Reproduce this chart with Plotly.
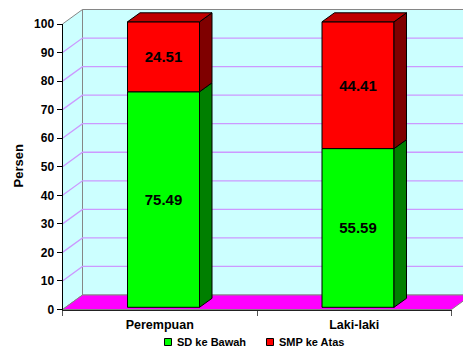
import plotly.graph_objects as go

# Survey shares by sex, stacked to 100 percent
categories = ["Perempuan", "Laki-laki"]
sd_ke_bawah = [75.49, 55.59]
smp_ke_atas = [24.51, 44.41]
y_ticks = [0, 10, 20, 30, 40, 50, 60, 70, 80, 90, 100]

FONT = "Liberation Sans"
W, H = 463, 352
AX_L, AX_R, AX_B, AX_T = 62.5, 451.5, 309.5, 24.0
PX_X = (AX_R - AX_L) / len(categories)   # pixels per category
PX_Y = (AX_B - AX_T) / 100               # pixels per percent


def dx(px):
    return px / PX_X


def dy(px):
    return px / PX_Y


# Full-page subplot that carries the pseudo-3D marks, in category/percent units
x0_page = -0.5 - AX_L / PX_X
x1_page = x0_page + W / PX_X
y0_page = -(H - AX_B) / PX_Y
y1_page = AX_B / PX_Y

WALL_DX, WALL_DY = dx(20), dy(14.5)
BAR_WIDTH = dx(72)
BAR_SHIFT = dx(3.75)
BAR_BASE = dy(2.2)
SIDE_DX, SIDE_DY = dx(12.5), dy(9)

LEFT, RIGHT = -0.5, 1.5


def poly(points):
    return "M" + "L".join(f"{x},{y}" for x, y in points) + "Z"


def line(points):
    return "M" + "L".join(f"{x},{y}" for x, y in points)


shapes = []


def add_shape(path, fill=None, color=None, width=1):
    shapes.append(dict(
        type="path", path=path, xref="x", yref="y", layer="below",
        fillcolor=fill if fill else "rgba(0,0,0,0)",
        line=dict(color=color if color else "rgba(0,0,0,0)", width=width),
    ))


GRAY = "#868686"
GRID = "#CC99FF"

# Side wall, back wall and floor
add_shape(poly([(LEFT, 0), (LEFT + WALL_DX, WALL_DY),
                (LEFT + WALL_DX, 100 + WALL_DY), (LEFT, 100)]), "#CCFFFF", GRAY)
add_shape(poly([(LEFT + WALL_DX, WALL_DY), (x1_page + 0.1, WALL_DY),
                (x1_page + 0.1, 100 + WALL_DY), (LEFT + WALL_DX, 100 + WALL_DY)]), "#CCFFFF", GRAY)
for t in y_ticks[1:-1]:
    add_shape(line([(LEFT, t), (LEFT + WALL_DX, t + WALL_DY), (x1_page + 0.1, t + WALL_DY)]),
              color=GRID, width=1.3)
add_shape(poly([(LEFT, 0), (RIGHT, 0), (RIGHT + WALL_DX, WALL_DY), (LEFT + WALL_DX, WALL_DY)]),
          "#FF00FF", GRAY)

fig = go.Figure()

# Front faces of the stacked columns
bar_x = [i + BAR_SHIFT for i in range(len(categories))]
fig.add_trace(go.Bar(
    x=bar_x, y=sd_ke_bawah, base=[BAR_BASE] * len(categories), width=BAR_WIDTH,
    name="SD ke Bawah", marker=dict(color="#00FF00", line=dict(color="#000000", width=1)),
    text=[f"{v:.2f}" for v in sd_ke_bawah], textposition="inside", textangle=0,
    insidetextanchor="middle", constraintext="none",
    insidetextfont=dict(family=FONT, size=15, color="#000000", weight=700),
    showlegend=False, hoverinfo="skip",
))
fig.add_trace(go.Bar(
    x=bar_x, y=smp_ke_atas, base=[BAR_BASE + v for v in sd_ke_bawah], width=BAR_WIDTH,
    name="SMP ke Atas", marker=dict(color="#FF0000", line=dict(color="#000000", width=1)),
    text=[f"{v:.2f}" for v in smp_ke_atas], textposition="inside", textangle=0,
    insidetextanchor="middle", constraintext="none",
    insidetextfont=dict(family=FONT, size=15, color="#000000", weight=700),
    showlegend=False, hoverinfo="skip",
))


def face(points, color):
    xs = [p[0] for p in points] + [points[0][0]]
    ys = [p[1] for p in points] + [points[0][1]]
    fig.add_trace(go.Scatter(x=xs, y=ys, mode="lines", fill="toself", fillcolor=color,
                             line=dict(color="#000000", width=1),
                             showlegend=False, hoverinfo="skip"))


# Side and top faces of each column
for cx, low, high in zip(bar_x, sd_ke_bawah, smp_ke_atas):
    xr = cx + BAR_WIDTH / 2
    xl = cx - BAR_WIDTH / 2
    b0 = BAR_BASE
    b1 = BAR_BASE + low
    b2 = b1 + high
    face([(xr, b0), (xr + SIDE_DX, b0 + SIDE_DY), (xr + SIDE_DX, b1 + SIDE_DY), (xr, b1)], "#007F00")
    face([(xr, b1), (xr + SIDE_DX, b1 + SIDE_DY), (xr + SIDE_DX, b2 + SIDE_DY), (xr, b2)], "#7F0000")
    face([(xl, b2), (xr, b2), (xr + SIDE_DX, b2 + SIDE_DY), (xl + SIDE_DX, b2 + SIDE_DY)], "#BF0000")

# Invisible trace that brings up the visible category and percent axes
fig.add_trace(go.Scatter(x=categories, y=[0, 0], xaxis="x2", yaxis="y2", mode="lines",
                         line=dict(width=0), showlegend=False, hoverinfo="skip"))

# Legend swatches and labels
legend_items = [("SD ke Bawah", "#00FF00", 164.5, 175), ("SMP ke Atas", "#FF0000", 266.5, 277)]
annotations = [dict(text="Persen", xref="paper", yref="paper", x=18 / W, y=1 - 166.5 / H,
                    xanchor="center", yanchor="middle", textangle=-90, showarrow=False,
                    font=dict(family=FONT, size=13, color="#000000", weight=700))]
for label, color, px, tx in legend_items:
    shapes.append(dict(type="rect", xref="paper", yref="paper",
                       x0=px / W, x1=(px + 7) / W, y0=1 - 345.5 / H, y1=1 - 338.5 / H,
                       fillcolor=color, line=dict(color="#000000", width=1)))
    annotations.append(dict(text=label, xref="paper", yref="paper", x=tx / W, y=1 - 342 / H,
                            xanchor="left", yanchor="middle", showarrow=False,
                            font=dict(family=FONT, size=11, color="#000000", weight=700)))

fig.update_layout(
    width=W, height=H, autosize=False,
    margin=dict(l=0, r=0, t=0, b=0, pad=0, autoexpand=False),
    paper_bgcolor="#FFFFFF", plot_bgcolor="rgba(0,0,0,0)",
    showlegend=False, barmode="overlay",
    shapes=shapes, annotations=annotations,
    xaxis=dict(domain=[0, 1], range=[x0_page, x1_page], visible=False, fixedrange=True),
    yaxis=dict(domain=[0, 1], range=[y0_page, y1_page], visible=False, fixedrange=True),
    xaxis2=dict(
        domain=[AX_L / W, AX_R / W], anchor="y2", type="category", automargin=False,
        categoryorder="array", categoryarray=categories, range=[-0.5, 1.5],
        tickson="boundaries", ticks="outside", ticklen=5, tickcolor="#555555", tickwidth=1,
        ticklabelstandoff=3,
        showline=True, linecolor="#222222", linewidth=1, showgrid=False, zeroline=False,
        tickfont=dict(family=FONT, size=12.5, color="#000000", weight=700), fixedrange=True,
    ),
    yaxis2=dict(
        domain=[1 - AX_B / H, 1 - AX_T / H], anchor="x2", range=[0, 100], automargin=False,
        tickvals=y_ticks, ticks="outside", ticklen=5, tickcolor="#000000", tickwidth=1,
        showline=True, linecolor="#000000", linewidth=1, showgrid=False, zeroline=False,
        tickfont=dict(family=FONT, size=12, color="#000000", weight=700), fixedrange=True,
    ),
)

fig.write_html("out.html", config={"displayModeBar": False})
